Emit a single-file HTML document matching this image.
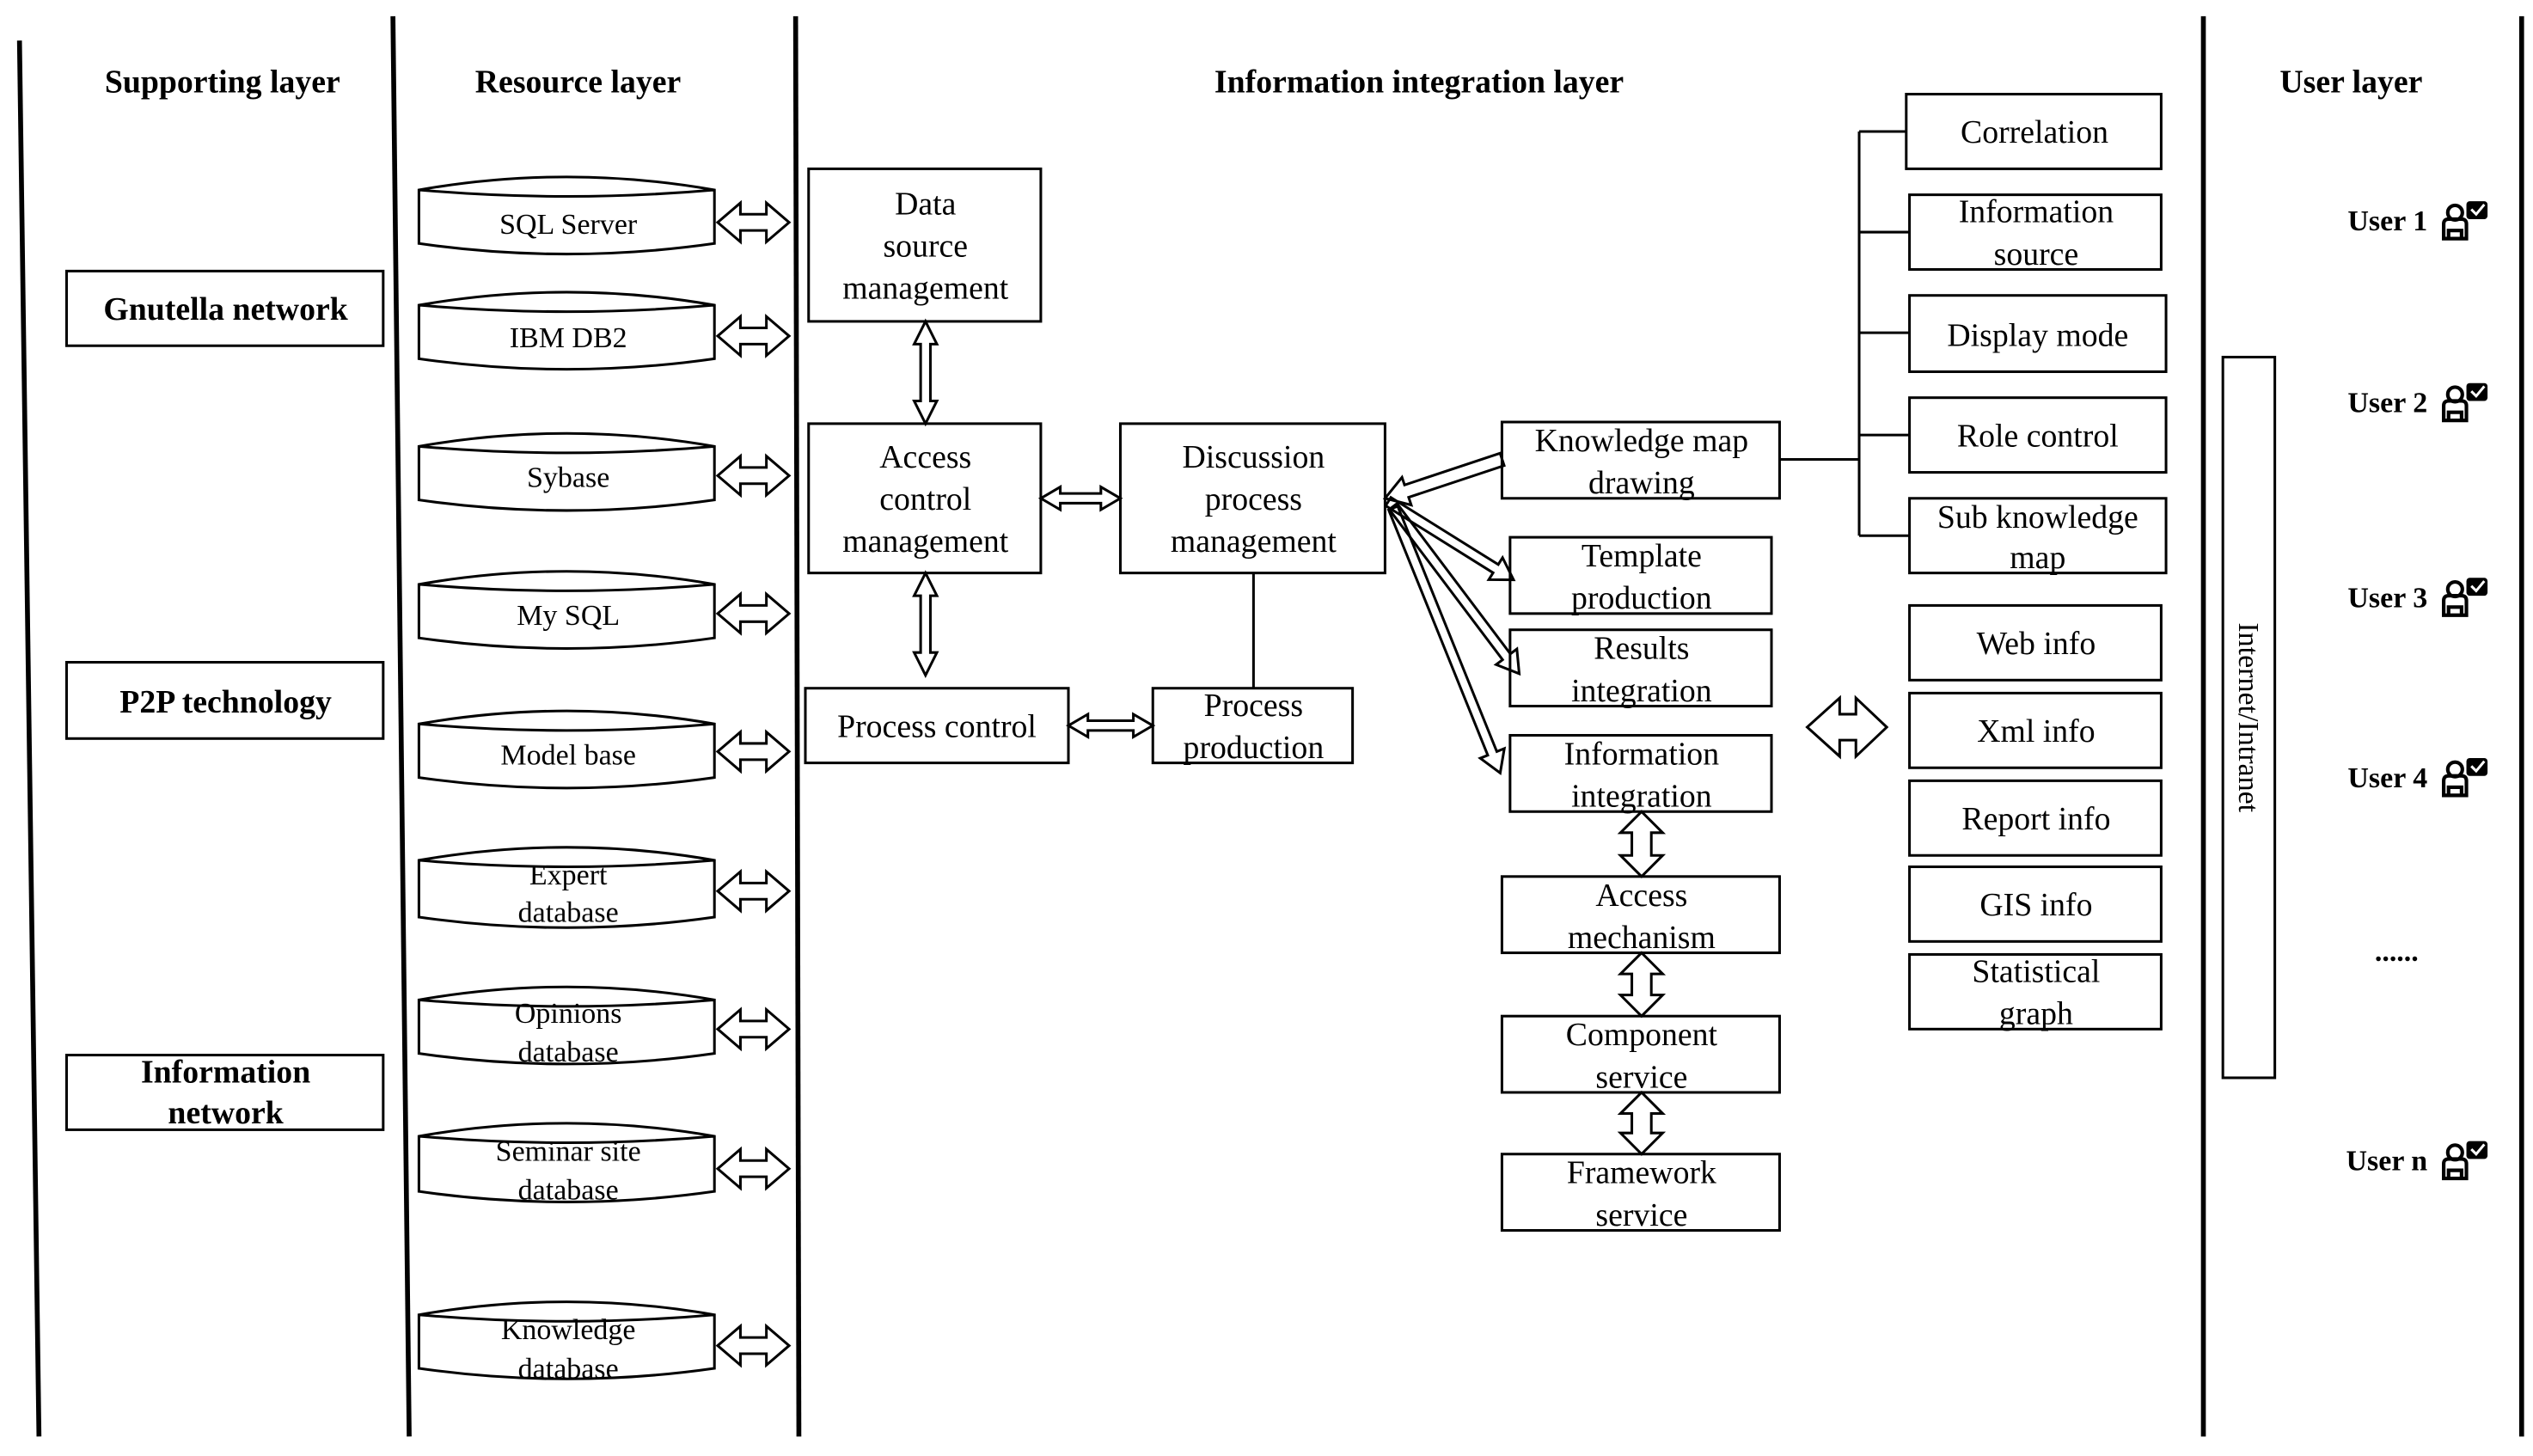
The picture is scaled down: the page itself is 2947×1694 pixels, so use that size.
<!DOCTYPE html>
<html><head><meta charset="utf-8"><style>
html,body{margin:0;padding:0;background:#fff}
svg{display:block}
text{font-family:"Liberation Serif",serif;fill:#000}
.h{font-weight:bold;font-size:20px}
.b{font-size:20px}
.s{font-size:18px}
.u{font-weight:bold;font-size:18px}
</style></head><body>
<svg width="2947" height="1694" viewBox="0 0 1560 897" preserveAspectRatio="none" xmlns="http://www.w3.org/2000/svg">
<g stroke="#000" fill="none">
<!-- layer lines -->
<line x1="12" y1="25" x2="24" y2="885" stroke-width="3"/>
<line x1="242" y1="10" x2="252" y2="885" stroke-width="3"/>
<line x1="490" y1="10" x2="492" y2="885" stroke-width="3"/>
<line x1="1357" y1="10" x2="1357" y2="885" stroke-width="3"/>
<line x1="1553" y1="10" x2="1553" y2="885" stroke-width="3"/>

<g stroke-width="1.6">
<rect x="41" y="167" width="195" height="46"/>
<rect x="41" y="408" width="195" height="47"/>
<rect x="41" y="650" width="195" height="46"/>

<rect x="498" y="104" width="143" height="94"/>
<rect x="498" y="261" width="143" height="92"/>
<rect x="496" y="424" width="162" height="46"/>
<rect x="690" y="261" width="163" height="92"/>
<rect x="710" y="424" width="123" height="46"/>
<line x1="772" y1="353" x2="772" y2="424"/>

<rect x="925" y="260" width="171" height="47"/>
<rect x="930" y="331" width="161" height="47"/>
<rect x="930" y="388" width="161" height="47"/>
<rect x="930" y="453" width="161" height="47"/>
<rect x="925" y="540" width="171" height="47"/>
<rect x="925" y="626" width="171" height="47"/>
<rect x="925" y="711" width="171" height="47"/>

<rect x="1174" y="58" width="157" height="46"/>
<rect x="1176" y="120" width="155" height="46"/>
<rect x="1176" y="182" width="158" height="47"/>
<rect x="1176" y="245" width="158" height="46"/>
<rect x="1176" y="307" width="158" height="46"/>
<polyline points="1096,283 1145,283"/>
<line x1="1145" y1="81" x2="1145" y2="330"/>
<line x1="1145" y1="81" x2="1174" y2="81"/>
<line x1="1145" y1="143" x2="1176" y2="143"/>
<line x1="1145" y1="205" x2="1176" y2="205"/>
<line x1="1145" y1="268" x2="1176" y2="268"/>
<line x1="1145" y1="330" x2="1176" y2="330"/>

<rect x="1176" y="373" width="155" height="46"/>
<rect x="1176" y="427" width="155" height="46"/>
<rect x="1176" y="481" width="155" height="46"/>
<rect x="1176" y="534" width="155" height="46"/>
<rect x="1176" y="588" width="155" height="46"/>

<rect x="1369" y="220" width="32" height="444"/>
</g>

<!-- cylinders -->
<g stroke-width="1.6" id="cyl">
<path d="M258,117 Q349,101 440,117 L440,150 Q349,163 258,150 Z M258,117 Q349,125 440,117"/>
<path d="M258,188 Q349,172 440,188 L440,221 Q349,234 258,221 Z M258,188 Q349,196 440,188"/>
<path d="M258,275 Q349,259 440,275 L440,308 Q349,321 258,308 Z M258,275 Q349,283 440,275"/>
<path d="M258,360 Q349,344 440,360 L440,393 Q349,406 258,393 Z M258,360 Q349,368 440,360"/>
<path d="M258,446 Q349,430 440,446 L440,479 Q349,492 258,479 Z M258,446 Q349,454 440,446"/>
<path d="M258,530 Q349,514 440,530 L440,565 Q349,578 258,565 Z M258,530 Q349,538 440,530"/>
<path d="M258,616 Q349,600 440,616 L440,649 Q349,662 258,649 Z M258,616 Q349,624 440,616"/>
<path d="M258,700 Q349,684 440,700 L440,734 Q349,747 258,734 Z M258,700 Q349,708 440,700"/>
<path d="M258,810 Q349,794 440,810 L440,843 Q349,856 258,843 Z M258,810 Q349,818 440,810"/>
</g>

<!-- resource double arrows -->
<g stroke-width="1.6">
<path id="ra" d="M442,0 L456,-12 L456,-5 L472,-5 L472,-12 L486,0 L472,12 L472,5 L456,5 L456,12 Z" transform="translate(0,137)"/>
<use href="#ra" transform="translate(0,70)"/>
<use href="#ra" transform="translate(0,156)"/>
<use href="#ra" transform="translate(0,241)"/>
<use href="#ra" transform="translate(0,326)"/>
<use href="#ra" transform="translate(0,412)"/>
<use href="#ra" transform="translate(0,497)"/>
<use href="#ra" transform="translate(0,583)"/>
<use href="#ra" transform="translate(0,692)"/>

<!-- vertical double arrows middle -->
<path d="M570,198 L577,212 L573,212 L573,247 L577,247 L570,261 L563,247 L567,247 L567,212 L563,212 Z"/>
<path d="M570,353 L577,367 L573,367 L573,402 L577,402 L570,416 L563,402 L567,402 L567,367 L563,367 Z"/>
<!-- horizontal small double arrows -->
<path d="M641,307 L653,300 L653,304 L678,304 L678,300 L690,307 L678,314 L678,310 L653,310 L653,314 Z"/>
<path d="M658,447 L670,440 L670,444 L698,444 L698,440 L710,447 L698,454 L698,450 L670,450 L670,454 Z"/>

<!-- fat vertical double arrows right -->
<path d="M1011,500 L1024,513 L1017,513 L1017,527 L1024,527 L1011,540 L998,527 L1005,527 L1005,513 L998,513 Z"/>
<path d="M1011,587 L1024,600 L1017,600 L1017,613 L1024,613 L1011,626 L998,613 L1005,613 L1005,600 L998,600 Z"/>
<path d="M1011,673 L1024,686 L1017,686 L1017,698 L1024,698 L1011,711 L998,698 L1005,698 L1005,686 L998,686 Z"/>

<!-- big double arrow -->
<path d="M1113,448 L1133,430 L1133,440 L1143,440 L1143,430 L1162,448 L1143,466 L1143,456 L1133,456 L1133,466 Z"/>

<!-- diagonal arrows from discussion -->
<path d="M0,0 L14,-9 L14,-4 L76,-4 L76,4 L14,4 L14,9 Z" transform="translate(853,307) rotate(-18.4)"/>
<path d="M0,-3 L78,-3 L78,-8 L91,0 L78,8 L78,3 L0,3 Z" transform="translate(855,309) rotate(32)"/>
<path d="M0,-3 L116,-3 L116,-8 L129,0 L116,8 L116,3 L0,3 Z" transform="translate(858,312) rotate(53)"/>
<path d="M0,-3 L163,-3 L163,-8 L176,0 L163,8 L163,3 L0,3 Z" transform="translate(858,313) rotate(68)"/>
</g>
</g>

<!-- text -->
<text class="h" x="137" y="57" text-anchor="middle">Supporting layer</text>
<text class="h" x="356" y="57" text-anchor="middle">Resource layer</text>
<text class="h" x="874" y="57" text-anchor="middle">Information integration layer</text>
<text class="h" x="1448" y="57" text-anchor="middle">User layer</text>

<g class="h" text-anchor="middle">
<text x="139" y="197">Gnutella network</text>
<text x="139" y="439">P2P technology</text>
<text x="139" y="667">Information</text>
<text x="139" y="692">network</text>
</g>

<g class="s" text-anchor="middle">
<text x="350" y="144">SQL Server</text>
<text x="350" y="214">IBM DB2</text>
<text x="350" y="300">Sybase</text>
<text x="350" y="385">My SQL</text>
<text x="350" y="471">Model base</text>
<text x="350" y="545">Expert</text><text x="350" y="568">database</text>
<text x="350" y="630">Opinions</text><text x="350" y="654">database</text>
<text x="350" y="715">Seminar site</text><text x="350" y="739">database</text>
<text x="350" y="825">Knowledge</text><text x="350" y="849">database</text>
</g>

<g class="b" text-anchor="middle">
<text x="570" y="132">Data</text><text x="570" y="158">source</text><text x="570" y="184">management</text>
<text x="570" y="288">Access</text><text x="570" y="314">control</text><text x="570" y="340">management</text>
<text x="577" y="454">Process control</text>
<text x="772" y="288">Discussion</text><text x="772" y="314">process</text><text x="772" y="340">management</text>
<text x="772" y="441">Process</text><text x="772" y="467">production</text>

<text x="1011" y="278">Knowledge map</text><text x="1011" y="304">drawing</text>
<text x="1011" y="349">Template</text><text x="1011" y="375">production</text>
<text x="1011" y="406">Results</text><text x="1011" y="432">integration</text>
<text x="1011" y="471">Information</text><text x="1011" y="497">integration</text>
<text x="1011" y="558">Access</text><text x="1011" y="584">mechanism</text>
<text x="1011" y="644">Component</text><text x="1011" y="670">service</text>
<text x="1011" y="729">Framework</text><text x="1011" y="755">service</text>

<text x="1253" y="88">Correlation</text>
<text x="1254" y="137">Information</text><text x="1254" y="163">source</text>
<text x="1255" y="213">Display mode</text>
<text x="1255" y="275">Role control</text>
<text x="1255" y="325">Sub knowledge</text><text x="1255" y="350">map</text>
<text x="1254" y="403">Web info</text>
<text x="1254" y="457">Xml info</text>
<text x="1254" y="511">Report info</text>
<text x="1254" y="564">GIS info</text>
<text x="1254" y="605">Statistical</text><text x="1254" y="631">graph</text>
</g>

<text class="s" x="0" y="0" text-anchor="middle" transform="translate(1379,442) rotate(90)">Internet/Intranet</text>

<g class="u" text-anchor="end">
<text x="1495" y="142">User 1</text>
<text x="1495" y="254">User 2</text>
<text x="1495" y="374">User 3</text>
<text x="1495" y="485">User 4</text>
<text x="1495" y="721">User n</text>
</g>
<text class="u" x="1476" y="592" text-anchor="middle">......</text>

<defs>
<g id="ic">
<circle cx="8" cy="7" r="4.5" fill="none" stroke="#000" stroke-width="2.2"/>
<path d="M1,23 L1,14 Q1,11 4,11 L12,11 Q15,11 15,14 L15,23 Z M4,23 L4,18 L12,18 L12,23" fill="none" stroke="#000" stroke-width="2.2"/>
<rect x="15" y="0" width="13" height="11" rx="2" fill="#000"/>
<path d="M18,5 L21,8 L26,2" stroke="#fff" stroke-width="1.6" fill="none"/>
</g>
</defs>
<use href="#ic" transform="translate(1504,124)"/>
<use href="#ic" transform="translate(1504,236)"/>
<use href="#ic" transform="translate(1504,356)"/>
<use href="#ic" transform="translate(1504,467)"/>
<use href="#ic" transform="translate(1504,703)"/>
</svg>
</body></html>
